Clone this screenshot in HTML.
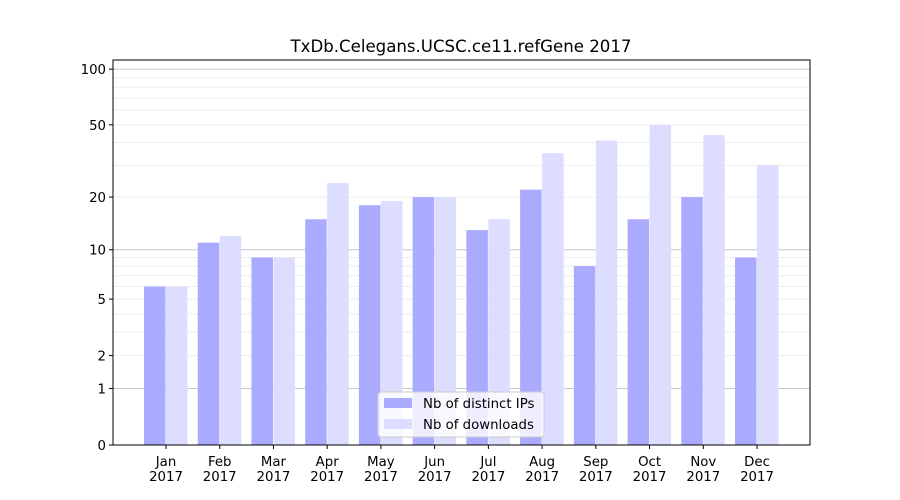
<!DOCTYPE html>
<html><head><meta charset="utf-8"><style>
body{margin:0;background:#fff;font-family:"DejaVu Sans","Liberation Sans",sans-serif}
</style></head><body>
<svg id="chart" width="900" height="500" style="display:block;font-family:'DejaVu Sans','Liberation Sans',sans-serif">
<text x="461" y="52" text-anchor="middle" font-size="16.6">TxDb.Celegans.UCSC.ce11.refGene 2017</text>
<g id="grid"></g><g id="bars"></g><g id="axes"></g>
</svg>
<script>
const months=["Jan","Feb","Mar","Apr","May","Jun","Jul","Aug","Sep","Oct","Nov","Dec"];
const ips=[6,11,9,15,18,20,13,22,8,15,20,9];
const downloads=[6,12,9,24,19,20,15,35,41,50,44,30];
const yTicks=[0,1,2,5,10,20,50,100];
const ns="http://www.w3.org/2000/svg";
const L=113,R=810,T=60,B=445;
function y(v){return B-187.5*Math.log10(1+v);}
function xc(i){return 166+i*53.73;}
function mk(t,a,p){const e=document.createElementNS(ns,t);for(const k in a)e.setAttribute(k,a[k]);p.appendChild(e);return e;}
const grid=document.getElementById('grid'),bars=document.getElementById('bars'),axes=document.getElementById('axes');
const minors=[];for(const d of [1,10])for(let m=2;m<=9;m++)minors.push(m*d);
minors.forEach(v=>{const g=mk('line',{x1:L,x2:R,y1:y(v),y2:y(v),stroke:'#eee','stroke-width':1},grid);

});
[1,10,100].forEach(v=>{const g=mk('line',{x1:L,x2:R,y1:y(v),y2:y(v),stroke:'#c8c8c8','stroke-width':1},grid);

});
months.forEach((m,i)=>{
const b1=mk('rect',{x:xc(i)-22,y:y(ips[i]),width:21.5,height:B-y(ips[i]),fill:'#aaaaff'},bars);


const b2=mk('rect',{x:xc(i),y:y(downloads[i]),width:21.5,height:B-y(downloads[i]),fill:'#ddddff'},bars);


mk('line',{x1:xc(i),x2:xc(i),y1:B,y2:B+4,stroke:'#000'},axes);
const t=mk('text',{x:xc(i),y:B+21,'text-anchor':'middle','font-size':13.3},axes);t.textContent=m;


const t2=mk('text',{x:xc(i),y:B+36,'text-anchor':'middle','font-size':13.3},axes);t2.textContent='2017';


});
yTicks.forEach(v=>{mk('line',{x1:L-4,x2:L,y1:y(v),y2:y(v),stroke:'#000'},axes);
const t=mk('text',{x:L-7,y:y(v)+5,'text-anchor':'end','font-size':13.3},axes);t.textContent=v;

});
const f=mk('rect',{x:L,y:T,width:R-L,height:B-T,fill:'none',stroke:'#000','stroke-width':1},axes);


const lg=mk('g',{},axes);


mk('rect',{x:378,y:392,width:166,height:45,rx:3,fill:'#fff','fill-opacity':0.8,stroke:'#ccc'},lg);
mk('rect',{x:384,y:398,width:28,height:10,fill:'#aaaaff'},lg);
mk('rect',{x:384,y:419,width:28,height:10,fill:'#ddddff'},lg);
const l1=mk('text',{x:423,y:408,'font-size':13.3},lg);l1.textContent='Nb of distinct IPs';


const l2=mk('text',{x:423,y:429,'font-size':13.3},lg);l2.textContent='Nb of downloads';


</script>
</body></html>
